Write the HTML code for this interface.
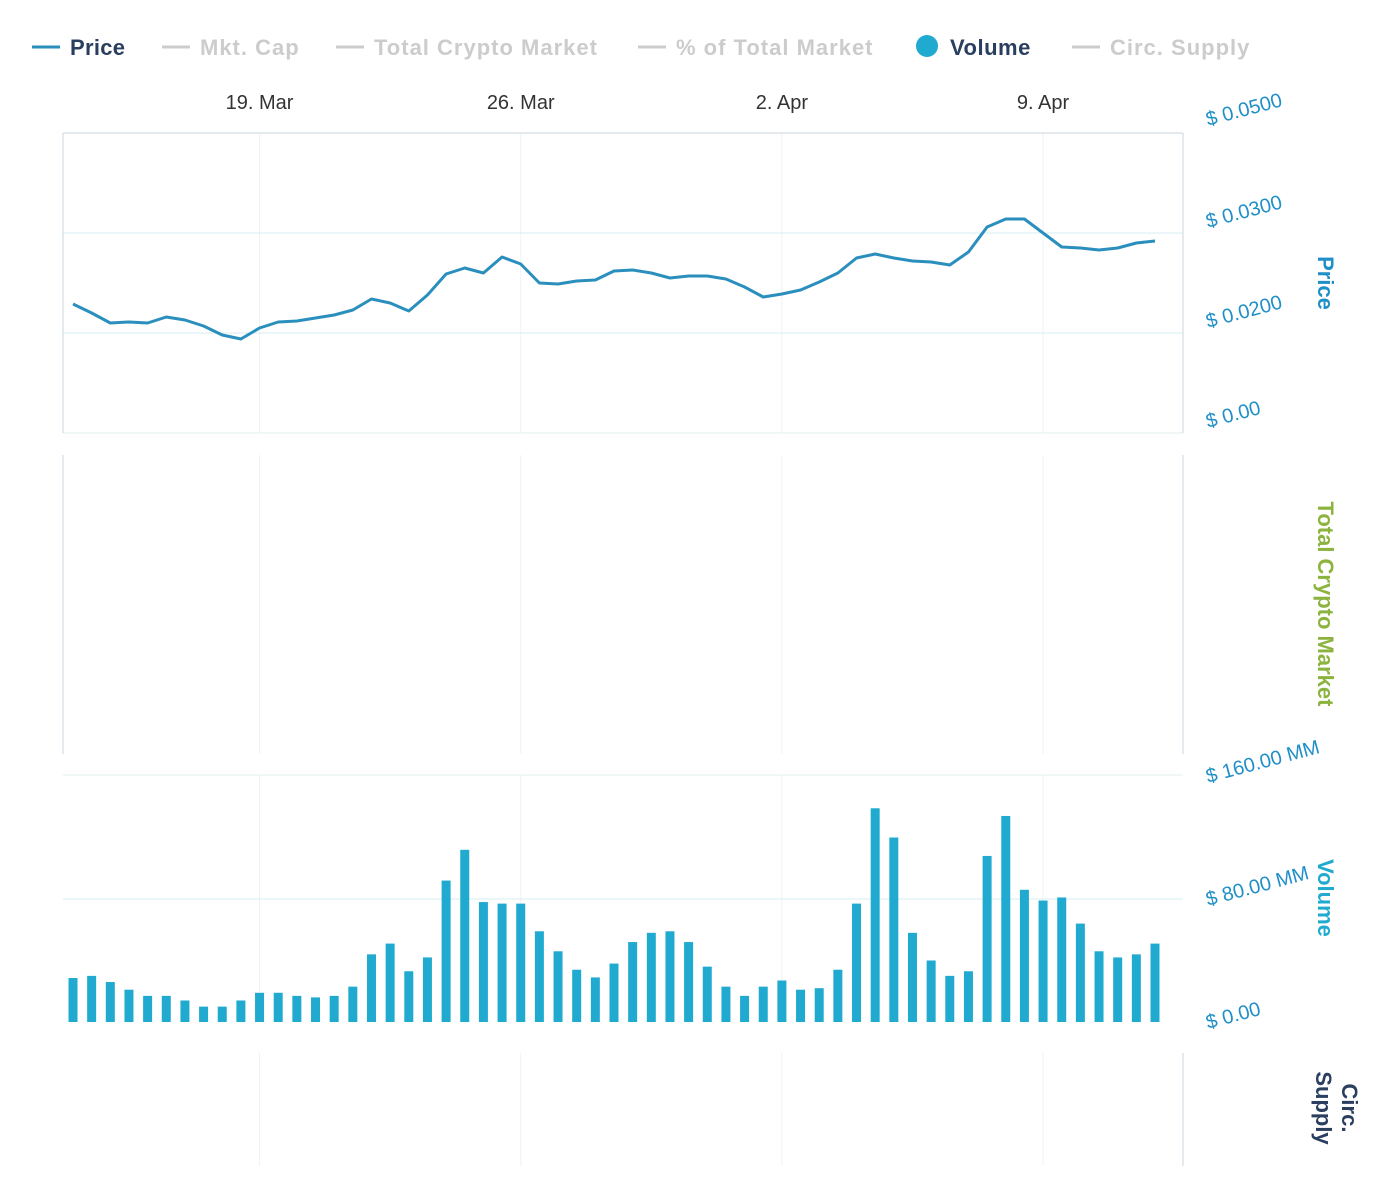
<!DOCTYPE html>
<html><head><meta charset="utf-8"><style>
body{margin:0;background:#fff;font-family:"Liberation Sans",sans-serif;}
svg text{font-family:"Liberation Sans",sans-serif;}
</style></head><body>
<svg id="c" width="1400" height="1176" xmlns="http://www.w3.org/2000/svg">
<g id="legend" font-size="22" font-weight="bold" letter-spacing="1">
 <g><line x1="32" y1="47" x2="60" y2="47" stroke="#2a8fbd" stroke-width="3"/><text x="70" y="55" fill="#2a3f5f" letter-spacing="0.3">Price</text></g>
 <g><line x1="162" y1="47" x2="190" y2="47" stroke="#ccc" stroke-width="3"/><text x="200" y="55" fill="#ccc">Mkt. Cap</text></g>
 <g><line x1="336" y1="47" x2="364" y2="47" stroke="#ccc" stroke-width="3"/><text x="374" y="55" fill="#ccc">Total Crypto Market</text></g>
 <g><line x1="638" y1="47" x2="666" y2="47" stroke="#ccc" stroke-width="3"/><text x="676" y="55" fill="#ccc">% of Total Market</text></g>
 <g><circle cx="927" cy="46" r="11" fill="#20aad0"/><text x="950" y="55" fill="#2a3f5f" letter-spacing="0.5">Volume</text></g>
 <g><line x1="1072" y1="47" x2="1100" y2="47" stroke="#ccc" stroke-width="3"/><text x="1110" y="55" fill="#ccc">Circ. Supply</text></g>
</g>
<g id="grid"></g>
<g id="frames" stroke="#c8d6dc" fill="none">
 <line x1="63" y1="133" x2="1183" y2="133"/>
 <line x1="63" y1="133" x2="63" y2="433"/>
 <line x1="1183" y1="133" x2="1183" y2="433"/>
 <line x1="63" y1="433" x2="1183" y2="433" stroke="#e3ecef"/>
 <line x1="63" y1="455" x2="63" y2="754"/>
 <line x1="1183" y1="455" x2="1183" y2="754"/>
 <line x1="63" y1="775" x2="1183" y2="775" stroke="#e3ecef"/>
 <line x1="1183" y1="1053" x2="1183" y2="1166"/>
</g>
<g id="xlabels" font-size="20" fill="#333"></g>
<g id="bars"></g>
<path id="priceLine" fill="none" stroke="#2a8fbd" stroke-width="3" stroke-linejoin="round"/>
<g id="ylabels" font-size="20" fill="#1f8fc7"></g>
<text x="1318" y="283" transform="rotate(90 1318 283)" text-anchor="middle" font-size="22" font-weight="bold" fill="#1f8fc7">Price</text>
<text x="1318" y="604" transform="rotate(90 1318 604)" text-anchor="middle" font-size="22" font-weight="bold" fill="#8bb33e">Total Crypto Market</text>
<text x="1318" y="898" transform="rotate(90 1318 898)" text-anchor="middle" font-size="22" font-weight="bold" fill="#20aad0">Volume</text>
<g font-size="22" font-weight="bold" fill="#2a3f5f">
 <text x="1342" y="1108" transform="rotate(90 1342 1108)" text-anchor="middle">Circ.</text>
 <text x="1316" y="1108" transform="rotate(90 1316 1108)" text-anchor="middle">Supply</text>
</g>
</svg>
<script>
const dateLabels=["19. Mar","26. Mar","2. Apr","9. Apr"];
const dateIndex=[10,24,38,52];
const price=[0.0229,0.0220,0.0210,0.0211,0.0210,0.0216,0.0213,0.0207,0.0198,0.0194,0.0205,0.0211,0.0212,0.0215,0.0218,0.0223,0.0234,0.0230,0.0222,0.0238,0.0259,0.0265,0.0260,0.0276,0.0269,0.0250,0.0249,0.0252,0.0253,0.0262,0.0263,0.0260,0.0255,0.0257,0.0257,0.0254,0.0246,0.0236,0.0239,0.0243,0.0251,0.0260,0.0275,0.0279,0.0275,0.0272,0.0271,0.0268,0.0281,0.0306,0.0314,0.0314,0.0300,0.0286,0.0285,0.0283,0.0285,0.0290,0.0292];
const volume=[28.6,30,26,21,17,17,14,10,10,14,19,19,17,16,17,23,44,51,33,42,92,112,78,77,77,59,46,34,29,38,52,58,59,52,36,23,17,23,27,21,22,34,77,139,120,58,40,30,33,108,134,86,79,81,64,46,42,44,51];
const priceTicks=["$ 0.00","$ 0.0200","$ 0.0300","$ 0.0500"];
const priceTickVals=[0.0,0.02,0.03,0.04];
const volTicks=["$ 0.00","$ 80.00 MM","$ 160.00 MM"];
const volTickVals=[0,80,160];

const NS="http://www.w3.org/2000/svg";
const n=price.length;
const x=i=>73+i*(1155-73)/(n-1);
const yP=v=>v<=0?433:333-(v-0.02)*10000;
const yV=v=>1022-v*123/80;
function mk(t,a,p){const e=document.createElementNS(NS,t);for(const k in a)e.setAttribute(k,a[k]);p.appendChild(e);return e;}
const grid=document.getElementById('grid');
dateIndex.forEach((di,k)=>{
 [[133,433],[455,754],[775,1022],[1053,1166]].forEach(r=>{
  const l=mk('line',{x1:x(di),x2:x(di),y1:r[0],y2:r[1],stroke:'#eef3f5'},grid);
  
  
 });
 const t=mk('text',{x:x(di),y:109,'text-anchor':'middle'},document.getElementById('xlabels'));
 t.textContent=dateLabels[k];
 
 
});
[0.02,0.03].forEach(v=>{
 const l=mk('line',{x1:63,x2:1183,y1:yP(v),y2:yP(v),stroke:'#d6ecf2'},grid);
 
 
});
{const l=mk('line',{x1:63,x2:1183,y1:yV(80),y2:yV(80),stroke:'#d6ecf2'},grid);
 
 }
const bars=document.getElementById('bars');
volume.forEach((v,i)=>{
 const r=mk('rect',{x:x(i)-4.5,y:yV(v),width:9,height:1022-yV(v),fill:'#20aad0'},bars);
 
 
});
document.getElementById('priceLine').setAttribute('d',price.map((v,i)=>(i?'L':'M')+x(i)+' '+yP(v)).join(' '));
const yl=document.getElementById('ylabels');
priceTicks.forEach((s,i)=>{
 const yy=i==3?126:yP(priceTickVals[i])-5;
 const t=mk('text',{x:1208,y:yy,transform:`rotate(-15 1208 ${yy})`},yl);
 t.textContent=s;
 
 
});
volTicks.forEach((s,i)=>{
 const yy=yV(volTickVals[i])+7;
 const t=mk('text',{x:1208,y:yy,transform:`rotate(-15 1208 ${yy})`},yl);
 t.textContent=s;
 
 
});
</script>
</body></html>
